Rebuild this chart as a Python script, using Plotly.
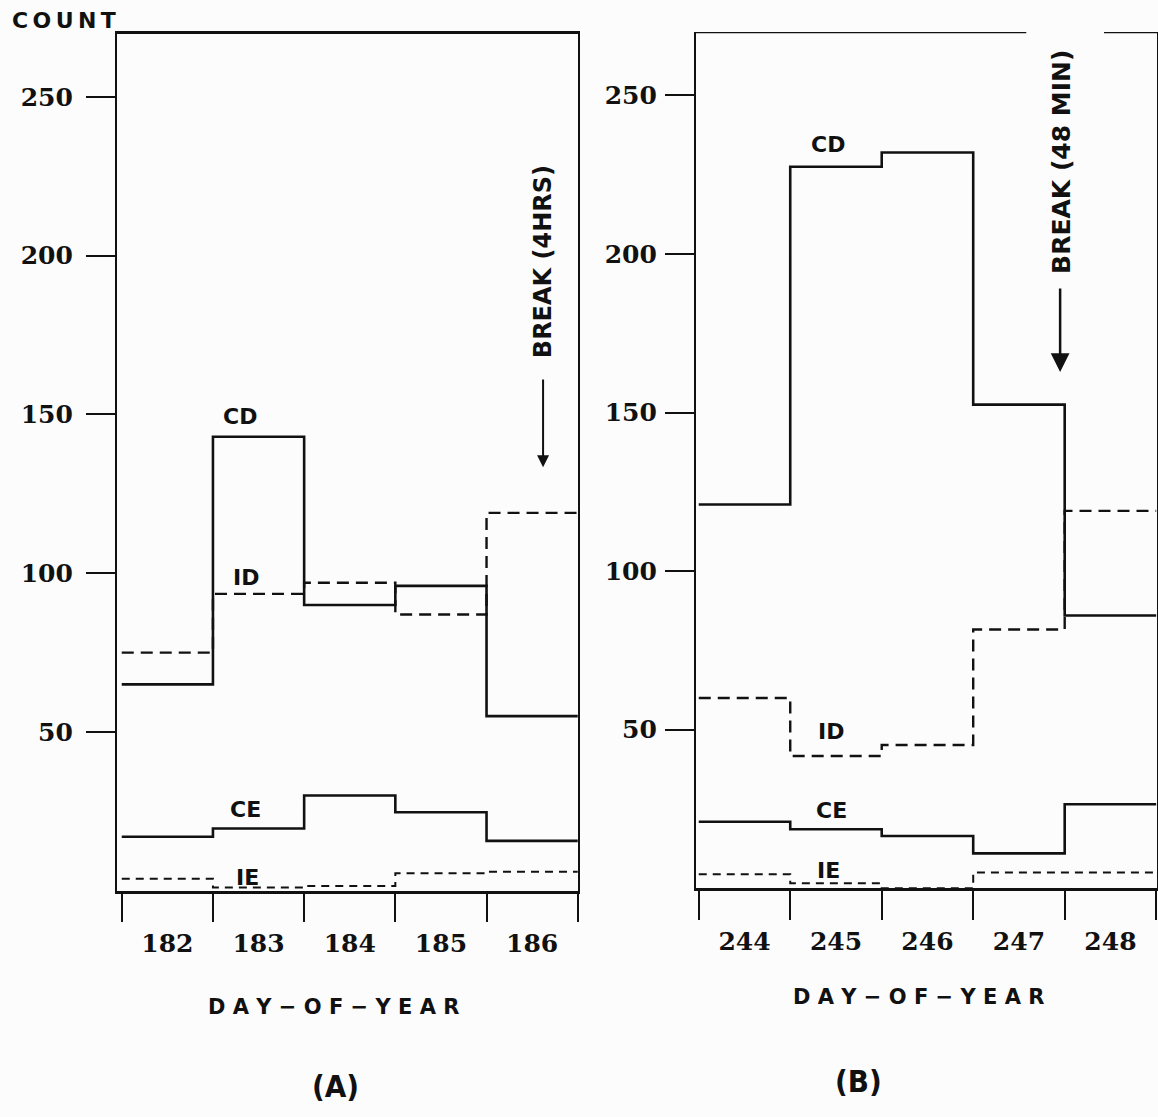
import plotly.graph_objects as go

# ---------------- data ----------------
days_a = [182, 183, 184, 185, 186]
days_b = [244, 245, 246, 247, 248]

cd_a = [65, 143, 90, 96, 55]
id_a = [75, 93.5, 97, 87, 119]
ce_a = [17, 19.6, 30, 24.7, 15.7]
ie_a = [3.8, 1.0, 1.5, 5.5, 6.0]

cd_b = [121, 227.5, 232, 152.5, 86]
id_b = [60, 41.7, 45.2, 81.6, 119]
ce_b = [21, 18.6, 16.5, 11, 26.5]
ie_b = [4.4, 1.6, 0, 5.0, 5.0]

y_ticks = [50, 100, 150, 200, 250]
series_names = ["CD", "ID", "CE", "IE"]

# ---------------- styles ----------------
INK = "#111111"
BG = "#fcfcfc"
styles = {
    "CD": dict(width=2.6, dash="solid"),
    "ID": dict(width=2.4, dash="12px,7px"),
    "CE": dict(width=2.6, dash="solid"),
    "IE": dict(width=2.0, dash="8px,6px"),
}
TICK_FONT = dict(family="DejaVu Serif", size=25, color=INK, weight="bold")
SANS = "DejaVu Sans"


def edges(days):
    return [d - 0.5 for d in days] + [days[-1] + 0.5]


def steps(vals):
    return list(vals) + [vals[-1]]


fig = go.Figure()

panels = [
    ("x", "y", days_a, dict(zip(series_names, [cd_a, id_a, ce_a, ie_a]))),
    ("x2", "y2", days_b, dict(zip(series_names, [cd_b, id_b, ce_b, ie_b]))),
]
for xr, yr, days, data in panels:
    for name in series_names:
        fig.add_trace(go.Scatter(
            x=edges(days), y=steps(data[name]), mode="lines",
            line=dict(color=INK, shape="hv", **styles[name]),
            xaxis=xr, yaxis=yr, showlegend=False, name=name,
        ))


def xaxis_cfg(days, rng, domain, anchor, mirror):
    return dict(
        domain=domain, range=rng, anchor=anchor,
        tickmode="array", tickvals=days, ticktext=[str(d) for d in days],
        ticks="outside", ticklen=0, tickfont=TICK_FONT,
        ticklabelstandoff=29,
        minor=dict(tickmode="array", tickvals=edges(days), ticks="outside",
                   ticklen=29, tickwidth=2, tickcolor=INK),
        showline=True, linecolor=INK, linewidth=2.5, mirror=mirror,
        showgrid=False, zeroline=False, fixedrange=True,
    )


def yaxis_cfg(domain, anchor, standoff):
    return dict(
        domain=domain, range=[0, 270], anchor=anchor,
        tickmode="array", tickvals=y_ticks,
        ticks="outside", ticklen=29, tickwidth=2, tickcolor=INK,
        tickfont=TICK_FONT, ticklabelstandoff=standoff,
        showline=True, linecolor=INK, linewidth=2.2, mirror=True,
        showgrid=False, zeroline=False, fixedrange=True,
    )


fig.update_layout(
    width=1158, height=1117,
    margin=dict(l=0, r=0, t=0, b=0),
    paper_bgcolor=BG, plot_bgcolor=BG,
    xaxis=xaxis_cfg(days_a, [181.448, 186.503], [0.10104, 0.49914], "y", True),
    yaxis=yaxis_cfg([0.2026, 0.9700], "x", 8),
    xaxis2=xaxis_cfg(days_b, [243.47, 248.509], [0.60104, 0.99914], "y2", False),
    yaxis2=yaxis_cfg([0.20474, 0.97144], "x2", 3),
)

# top frame of panel B with a gap around the BREAK text
for x0, x1 in [(243.47, 247.08), (247.93, 248.509)]:
    fig.add_shape(type="line", xref="x2", yref="y2", x0=x0, x1=x1, y0=270, y1=270,
                  line=dict(color=INK, width=2.5))

# series labels
label_font = dict(family=SANS, size=22, color=INK, weight="bold")
labels = [
    ("x", "y", 182.80, 149.5, "CD"), ("x", "y", 182.86, 98.5, "ID"),
    ("x", "y", 182.86, 25.5, "CE"), ("x", "y", 182.88, 4.2, "IE"),
    ("x2", "y2", 244.91, 234.5, "CD"), ("x2", "y2", 244.95, 49.5, "ID"),
    ("x2", "y2", 244.95, 24.5, "CE"), ("x2", "y2", 244.92, 5.5, "IE"),
]
for xr, yr, xv, yv, t in labels:
    fig.add_annotation(xref=xr, yref=yr, x=xv, y=yv, text=t, showarrow=False,
                       xanchor="center", yanchor="middle", font=label_font)

# BREAK annotations
fig.add_annotation(xref="x", yref="y", x=186.12, y=198, text="BREAK (4HRS)",
                   textangle=-90, showarrow=False, xanchor="center", yanchor="middle",
                   font=dict(family=SANS, size=24, color=INK, weight="bold"))
fig.add_annotation(xref="x", yref="y", x=186.12, y=133.4, ax=186.12, ay=161.5,
                   axref="x", ayref="y", text="", showarrow=True,
                   arrowhead=2, arrowsize=1.2, arrowwidth=2, arrowcolor=INK)
fig.add_annotation(xref="x2", yref="y2", x=247.47, y=229, text="BREAK (48 MIN)",
                   textangle=-90, showarrow=False, xanchor="center", yanchor="middle",
                   font=dict(family=SANS, size=25, color=INK, weight="bold"))
fig.add_annotation(xref="x2", yref="y2", x=247.45, y=162.8, ax=247.45, ay=189.6,
                   axref="x2", ayref="y2", text="", showarrow=True,
                   arrowhead=2, arrowsize=1.5, arrowwidth=2.5, arrowcolor=INK)

# texts in paper space
def paper_text(px, py, text, font):
    fig.add_annotation(xref="paper", yref="paper", x=px / 1158, y=1 - py / 1117,
                       text=text, showarrow=False, xanchor="center",
                       yanchor="middle", font=font)


paper_text(64, 20, "C\u2009O\u2009U\u2009N\u2009T",
           dict(family=SANS, size=22, color=INK, weight="bold"))
title_font = dict(family=SANS, size=21, color=INK, weight="bold")
paper_text(333, 1007, "D A Y \u2212 O F \u2212 Y E A R", title_font)
paper_text(918, 997, "D A Y \u2212 O F \u2212 Y E A R", title_font)
panel_font = dict(family="DejaVu Sans Condensed, DejaVu Sans", size=31, color=INK,
                  weight="bold")
paper_text(335, 1086, "(A)", panel_font)
paper_text(858, 1081, "(B)", panel_font)

fig.write_html("out.html",
               config={"displayModeBar": False},
               post_script="document.body.style.margin='0';"
                           "document.body.style.background='#fcfcfc';")
